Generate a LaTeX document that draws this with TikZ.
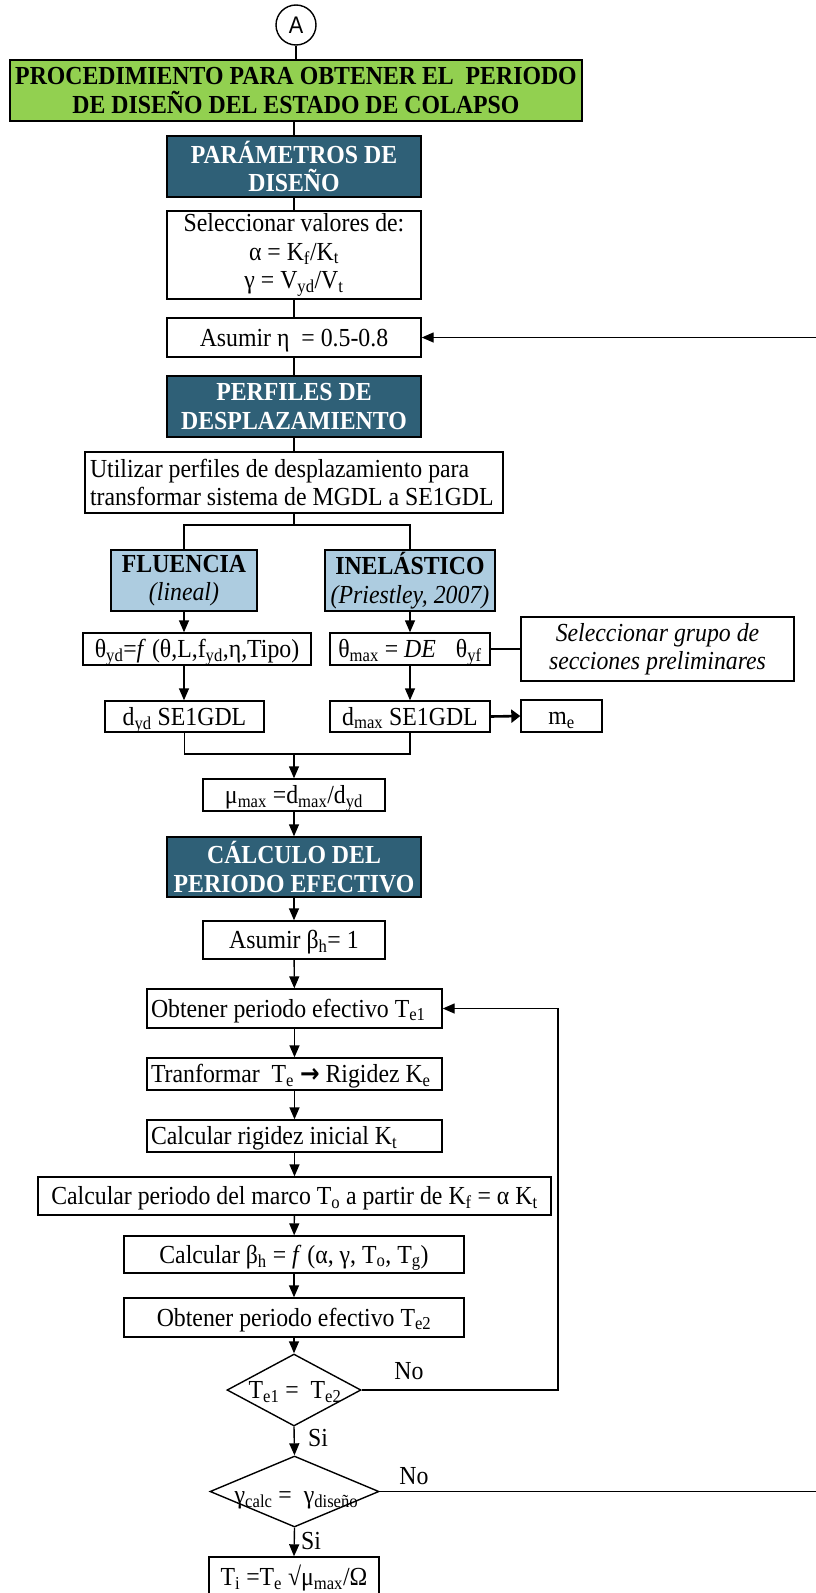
\documentclass[tikz,border=0pt]{standalone}
\usepackage{fontspec}
\setmainfont{Liberation Serif}[FakeStretch=0.915]
\newfontfamily\circlefont{Liberation Sans}[FakeStretch=0.9]
\newfontfamily\arrowfont{DejaVu Sans}[FakeStretch=0.9]
\usetikzlibrary{arrows.meta,shapes.geometric}

\definecolor{titlegreen}{HTML}{92D050}
\definecolor{headteal}{HTML}{2F6077}
\definecolor{branchblue}{HTML}{ADCCE0}

\newcommand\lo[1]{\textsubscript{#1}}
\newcommand\lline[2]{\makebox[#1][l]{#2}}

\tikzset{
  every node/.style={font=\fontsize{26}{28.5}\selectfont, inner sep=0pt},
  box/.style={draw, line width=1.4pt, align=center},
  oneline/.style={text height=21pt, text depth=4pt},
  head/.style={box, fill=headteal, text=white, font=\fontsize{26}{28.5}\selectfont\bfseries},
  branch/.style={box, fill=branchblue},
  leftbox/.style={box, oneline, inner xsep=4pt},
  link/.style={line width=1.4pt},
  flow/.style={line width=1.4pt, -{Triangle[length=12pt,width=10pt]}},
  decision/.style={draw, diamond, line width=1.4pt, inner sep=0pt},
}

\begin{document}
\begin{tikzpicture}[x=1pt, y=-1pt]
\useasboundingbox (0,0) rectangle (816,1593);
\clip (0,0) rectangle (816,1593);

% connector A and title
\node[draw, circle, line width=1.4pt, minimum size=40pt, font=\circlefont\fontsize{24}{26}\selectfont] (A) at (296,25) {A};
\node[box, fill=titlegreen, minimum width=572pt, minimum height=61pt,
      font=\fontsize{26}{29}\selectfont\bfseries] (title) at (296,90.5)
  {PROCEDIMIENTO PARA OBTENER EL\ \ PERIODO\\DE DISEÑO DEL ESTADO DE COLAPSO};

% design parameters
\node[head, minimum width=254pt, minimum height=61pt] (hpar) at (294,166.5) {PARÁMETROS DE\\DISEÑO};
\node[box, minimum width=254pt, minimum height=88pt] (sel) at (294,255)
  {Seleccionar valores de:\\α = K\lo{f}/K\lo{t}\\γ = V\lo{yd}/V\lo{t}};
\node[box, oneline, minimum width=254pt, minimum height=39pt] (eta) at (294,337.5) {Asumir η\ \ = 0.5-0.8};

% displacement profiles
\node[head, minimum width=254pt, minimum height=61pt] (hdes) at (294,406.5) {PERFILES DE\\DESPLAZAMIENTO};
\node[box, inner xsep=5pt, minimum height=61pt] (util) at (294,482.5)
  {\lline{408pt}{Utilizar perfiles de desplazamiento para}\\\lline{408pt}{transformar sistema de MGDL a SE1GDL}};

\node[branch, minimum width=146pt, minimum height=61pt] (flu) at (184,580.5)
  {\textbf{FLUENCIA}\\\textit{(lineal)}};
\node[branch, minimum width=170pt, minimum height=61pt] (ine) at (410,580.5)
  {\textbf{INELÁSTICO}\\\textit{(Priestley, 2007)}};

\node[box, oneline, minimum width=228pt, minimum height=32pt] (thyd) at (197,649)
  {θ\lo{yd}=\textit{f} (θ,L,f\lo{yd},η,Tipo)};
\node[box, oneline, minimum width=160pt, minimum height=32pt] (thmax) at (410,649)
  {θ\lo{max} = \textit{DE}\hspace{20pt}θ\lo{yf}};
\node[box, minimum width=273pt, minimum height=64pt, font=\fontsize{26}{28.5}\selectfont\itshape] (grp) at (657.5,649)
  {Seleccionar grupo de\\secciones preliminares};

\node[box, oneline, minimum width=159pt, minimum height=31pt] (dyd) at (184.5,716.5) {d\lo{yd} SE1GDL};
\node[box, oneline, minimum width=160pt, minimum height=31pt] (dmax) at (410,716.5) {d\lo{max} SE1GDL};
\node[box, oneline, minimum width=81pt, minimum height=32pt] (me) at (561.5,716) {m\lo{e}};

\node[box, oneline, minimum width=182pt, minimum height=32pt] (mu) at (294,795) {μ\lo{max} =d\lo{max}/d\lo{yd}};

% effective period
\node[head, minimum width=254pt, minimum height=60pt] (hper) at (294,867) {CÁLCULO DEL\\PERIODO EFECTIVO};
\node[box, oneline, minimum width=182pt, minimum height=38pt] (beta) at (294,940) {Asumir β\lo{h}= 1};
\node[leftbox, minimum height=39pt] (te1) at (294.5,1008.5) {\lline{287pt}{Obtener periodo efectivo T\lo{e1}}};
\node[leftbox, minimum height=32pt] (tra) at (294.5,1074)
  {\lline{287pt}{Tranformar\ \ T\lo{e} {\arrowfont\bfseries →} Rigidez K\lo{e}}};
\node[leftbox, minimum height=32pt] (kt) at (294.5,1136) {\lline{287pt}{Calcular rigidez inicial K\lo{t}}};
\node[box, oneline, minimum width=513pt, minimum height=38pt] (tzero) at (294.5,1196)
  {Calcular periodo del marco T\lo{o} a partir de K\lo{f} = α K\lo{t}};
\node[box, oneline, minimum width=340pt, minimum height=37pt] (bh) at (294,1254.5)
  {Calcular β\lo{h} = \textit{f} (α, γ, T\lo{o}, T\lo{g})};
\node[box, oneline, minimum width=340pt, minimum height=39pt] (te2) at (294,1317.5) {Obtener periodo efectivo T\lo{e2}};

\node[decision, minimum width=134pt, minimum height=72pt] (d1) at (294,1390) {};
\node[oneline] (d1txt) at ([xshift=1pt]d1.center) {T\lo{e1} =\ \ T\lo{e2}};
\node[decision, minimum width=169pt, minimum height=71pt] (d2) at (294.5,1491.5) {};
\node[oneline] (d2txt) at ([xshift=2pt, yshift=-3pt]d2.center) {γ\lo{calc} =\ \ γ\lo{diseño}};

\node[box, oneline, minimum width=170pt, minimum height=40pt] (fin) at (294,1577) {T\lo{i} =T\lo{e} √μ\lo{max}/Ω};

\node (no1) at (409,1371) {No};
\node (si1) at (318,1438) {Si};
\node (no2) at (414,1476) {No};
\node (si2) at (311,1541) {Si};

% loop corners and off-page ends
\coordinate (loopc) at (558,1390);
\coordinate (redge) at (830,1491.5);
\coordinate (retop) at (830,337.5);
\coordinate (split) at (294,525);
\coordinate (join) at (294,754);

% plain links
\draw[link] (A) -- (A |- title.north);
\draw[link] (hpar.north) -- (hpar.north |- title.south);
\draw[link] (hpar) -- (sel);
\draw[link] (sel) -- (eta);
\draw[link] (eta) -- (hdes);
\draw[link] (hdes) -- (util);
\draw[link] (util.south) -- (split);
\draw[link] (flu.north) -- (flu.north |- split) -- (ine.north |- split) -- (ine.north);
\draw[link] (thmax.east) -- (grp.west);
\draw[link] (dyd.south) -- (dyd.south |- join) -- (dmax.south |- join) -- (dmax.south);

% arrows
\draw[flow] (flu.south) -- (flu.south |- thyd.north);
\draw[flow] (ine.south) -- (thmax.north);
\draw[flow] (flu.south |- thyd.south) -- (flu.south |- dyd.north);
\draw[flow] (thmax) -- (dmax);
\draw[line width=2.6pt, -{Triangle[length=9pt,width=13pt]}] (dmax.east) -- (me.west);
\draw[flow] (join) -- (mu.north);
\draw[flow] (mu) -- (hper);
\draw[flow] (hper) -- (beta);
\draw[flow] (beta) -- (te1);
\draw[flow] (te1) -- (tra);
\draw[flow] (tra) -- (kt);
\draw[flow] (kt) -- (tzero);
\draw[flow] (tzero) -- (bh);
\draw[flow] (bh) -- (te2);
\draw[flow] (te2) -- (d1.north);
\draw[flow] (d1.south) -- (d2.north);
\draw[flow] (d2.south) -- (fin.north);
\draw[flow] (d1.east) -- (loopc) -- (loopc |- te1.east) -- (te1.east);
\draw[link] (d2.east) -- (redge);
\draw[flow] (retop) -- (eta.east);
\end{tikzpicture}
\end{document}
